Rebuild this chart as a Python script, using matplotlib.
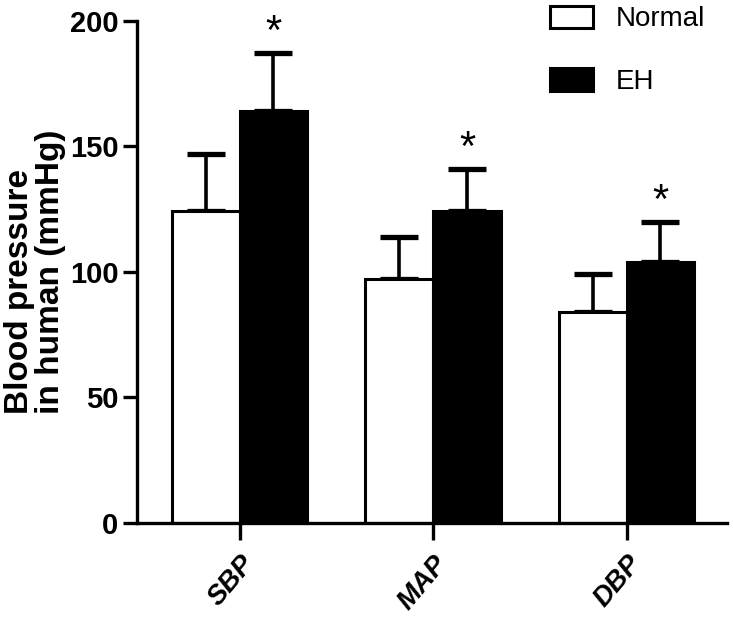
import numpy as np
import matplotlib.pyplot as plt

# %% Data
categories = ["SBP", "MAP", "DBP"]
normal_mean = [124, 97, 84]
normal_sd = [23, 17, 15]
eh_mean = [164, 124, 104]
eh_sd = [23, 17, 16]
significant = [True, True, True]

plt.rcParams["font.family"] = ["Liberation Sans", "DejaVu Sans"]

# %% Plot
fig = plt.figure(figsize=(7.33, 6.32), dpi=100)
ax = fig.add_axes([0.187, 0.1725, 0.805, 0.795])

x = np.arange(len(categories))
w = 0.35

ax.bar(x - w / 2, normal_mean, w, color="white", edgecolor="black", linewidth=2.2, label="Normal", zorder=2)
ax.bar(x + w / 2, eh_mean, w, color="black", edgecolor="black", linewidth=2.2, label="EH", zorder=2)

ax.errorbar(x - w / 2, normal_mean, yerr=[np.zeros(3), normal_sd], fmt="none", ecolor="black",
            elinewidth=2.6, capsize=14, capthick=3.8, zorder=1)
ax.errorbar(x + w / 2, eh_mean, yerr=[np.zeros(3), eh_sd], fmt="none", ecolor="black",
            elinewidth=2.6, capsize=14, capthick=3.8, zorder=1)

for i in range(len(categories)):
    if significant[i]:
        ax.annotate("*", (x[i] + w / 2, eh_mean[i] + eh_sd[i]), xytext=(0, 0), textcoords="offset points",
                    ha="center", va="bottom", fontsize=30)

ax.set_xlim(-0.53, 2.52)
ax.set_ylim(0, 200)
ax.set_yticks([0, 50, 100, 150, 200])
ax.set_xticks(x)
ax.set_xticklabels(categories, rotation=50, ha="right", rotation_mode="anchor",
                   fontsize=20, fontweight="bold", fontstyle="italic")
ax.tick_params(axis="y", labelsize=21, width=2.4, length=10, direction="out")
ax.tick_params(axis="x", width=2.4, length=12, direction="out", pad=8)
for lbl in ax.get_yticklabels():
    lbl.set_fontweight("bold")

ax.set_ylabel("Blood pressure\nin human (mmHg)", fontsize=24, fontweight="bold",
              linespacing=1.0, multialignment="left")
ax.yaxis.set_label_coords(-0.12, 0.5)

for s in ["top", "right"]:
    ax.spines[s].set_visible(False)
for s in ["left", "bottom"]:
    ax.spines[s].set_linewidth(2.4)

ax.legend(loc="upper left", bbox_to_anchor=(0.743, 1.0), bbox_transform=fig.transFigure, frameon=False,
          borderaxespad=0.0, borderpad=0.2, fontsize=20, handlelength=1.55, handleheight=0.85,
          handletextpad=0.8, labelspacing=1.3)

fig.savefig("out.png", dpi=100)
